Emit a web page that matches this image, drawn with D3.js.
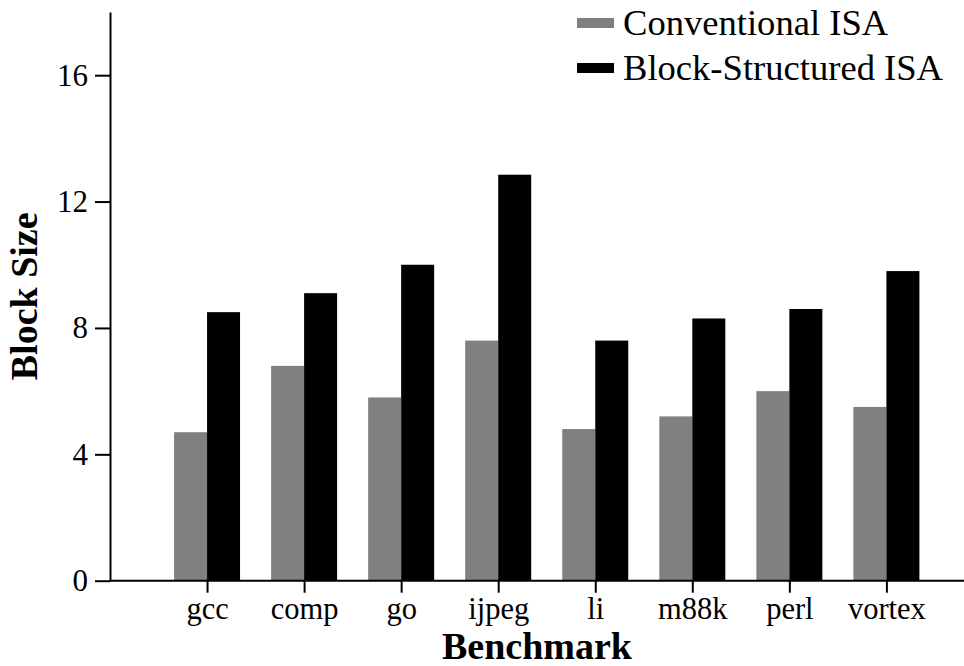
<!DOCTYPE html>
<html>
<head>
<meta charset="utf-8">
<script src="https://cdn.jsdelivr.net/npm/d3@7"></script>
<style>
  html, body { margin: 0; padding: 0; background: #fff; }
  svg { display: block; }
  text { font-family: "Liberation Serif", "Times New Roman", Times, serif; fill: #000; }
</style>
</head>
<body>
<svg id="chart" width="964" height="666"></svg>
<script>
// Average block size per SPECint95 benchmark
const benchmarks = ["gcc", "comp", "go", "ijpeg", "li", "m88k", "perl", "vortex"];
const conventional = [4.7, 6.8, 5.8, 7.6, 4.8, 5.2, 6.0, 5.5];
const blockStructured = [8.5, 9.1, 10.0, 12.85, 7.6, 8.3, 8.6, 9.8];
const seriesNames = ["Conventional ISA", "Block-Structured ISA"];
const seriesColors = ["#808080", "#000000"];
const yTicks = [0, 4, 8, 12, 16];

const W = 964, H = 666;
const axisX = 110;          // y-axis position
const baseY = 580.7;        // x-axis position
const topY = 12;
const step = 97.05;         // spacing between benchmark groups
const barW = 33;
const serif = '"Liberation Serif", "Times New Roman", Times, serif';

const svg = d3.select("#chart");

const y = d3.scaleLinear().domain([0, 18]).range([baseY, topY]);
const x = d3.scalePoint()
  .domain(benchmarks)
  .range([axisX + step, axisX + step * benchmarks.length]);

// bars: conventional to the left of each tick, block-structured to the right
const groups = svg.append("g")
  .selectAll("g")
  .data(benchmarks)
  .join("g");

groups.append("rect")
  .attr("x", d => x(d) - barW)
  .attr("y", (d, i) => y(conventional[i]))
  .attr("width", barW)
  .attr("height", (d, i) => y(0) - y(conventional[i]))
  .attr("fill", seriesColors[0]);

groups.append("rect")
  .attr("x", d => x(d))
  .attr("y", (d, i) => y(blockStructured[i]))
  .attr("width", barW)
  .attr("height", (d, i) => y(0) - y(blockStructured[i]))
  .attr("fill", seriesColors[1]);

// x axis
const xAxis = svg.append("g")
  .attr("transform", `translate(0,${baseY})`)
  .call(d3.axisBottom(x).tickSize(12).tickSizeOuter(0).tickPadding(5));
xAxis.select(".domain").remove();
xAxis.append("line")
  .attr("x1", axisX).attr("x2", W)
  .attr("stroke", "#000").attr("stroke-width", 2);
xAxis.selectAll(".tick line").attr("stroke", "#000").attr("stroke-width", 2);
xAxis.selectAll(".tick text")
  .attr("font-size", 30.5)
  .style("font-family", serif);

// y axis
const yAxis = svg.append("g")
  .attr("transform", `translate(${axisX},0)`)
  .call(d3.axisLeft(y).tickValues(yTicks).tickSize(15).tickSizeOuter(0).tickPadding(7));
yAxis.select(".domain").attr("stroke", "#000").attr("stroke-width", 2);
yAxis.selectAll(".tick line").attr("stroke", "#000").attr("stroke-width", 2);
yAxis.selectAll(".tick text")
  .attr("font-size", 31)
  .style("font-family", serif);

// axis titles
svg.append("text")
  .attr("x", (axisX + W) / 2)
  .attr("y", 659)
  .attr("text-anchor", "middle")
  .attr("font-size", 38)
  .attr("font-weight", "bold")
  .text("Benchmark");

svg.append("text")
  .attr("transform", `translate(37,${(topY + baseY) / 2}) rotate(-90)`)
  .attr("text-anchor", "middle")
  .attr("font-size", 38)
  .attr("font-weight", "bold")
  .text("Block Size");

// legend
const legend = svg.append("g").attr("transform", "translate(577,0)");
const legendItems = legend.selectAll("g")
  .data(seriesNames)
  .join("g")
  .attr("transform", (d, i) => `translate(0,${35 + i * 45})`);
legendItems.append("rect")
  .attr("x", 0).attr("y", -17)
  .attr("width", 37).attr("height", 10)
  .attr("fill", (d, i) => seriesColors[i]);
legendItems.append("text")
  .attr("x", 46).attr("y", 0)
  .attr("font-size", 36.6)
  .text(d => d);
</script>
</body>
</html>
